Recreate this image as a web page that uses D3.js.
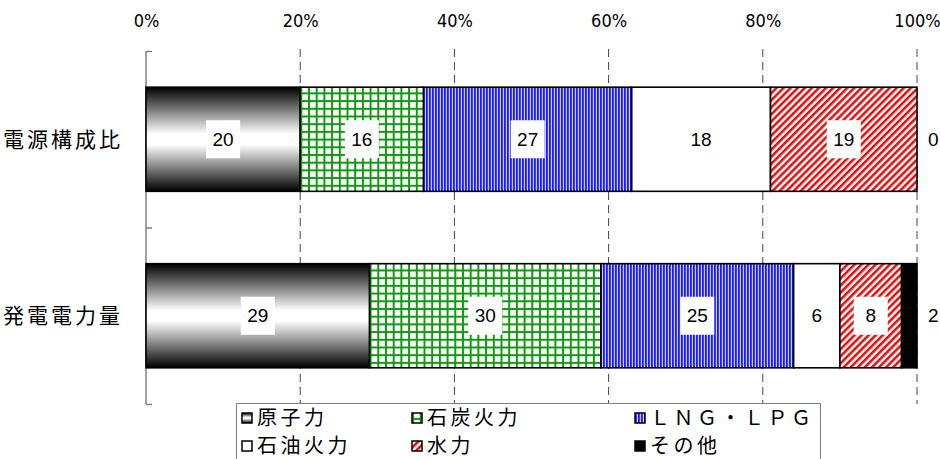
<!DOCTYPE html>
<html>
<head>
<meta charset="utf-8">
<script src="https://cdn.jsdelivr.net/npm/d3@7"></script>
<style>
  body { margin: 0; background: #fff; }
  svg { display: block; }
  .cjk { font-family: "Noto Sans CJK JP", "Noto Sans", sans-serif; }
</style>
</head>
<body>
<div id="chart"></div>
<script>
// chart data
const categories = ["電源構成比", "発電電力量"];
const series = ["原子力", "石炭火力", "ＬＮＧ・ＬＰＧ", "石油火力", "水力", "その他"];
const values = [
    [20, 16, 27, 18, 19, 0],   // 電源構成比
    [29, 30, 25, 6, 8, 2]      // 発電電力量
];
const tickValues = [0, 20, 40, 60, 80, 100];

const width = 940, height = 459;

const svg = d3.select("#chart").append("svg")
    .attr("width", width)
    .attr("height", height);

// fills for each series
const defs = svg.append("defs");

const grad = defs.append("linearGradient")
    .attr("id", "fill0")
    .attr("x1", 0).attr("y1", 0).attr("x2", 0).attr("y2", 1);
grad.append("stop").attr("offset", "0%").attr("stop-color", "#000");
grad.append("stop").attr("offset", "45%").attr("stop-color", "#fff");
grad.append("stop").attr("offset", "55%").attr("stop-color", "#fff");
grad.append("stop").attr("offset", "100%").attr("stop-color", "#000");

// green grid
const pGrid = defs.append("pattern")
    .attr("id", "fill1")
    .attr("patternUnits", "userSpaceOnUse")
    .attr("width", 7.7).attr("height", 7.7);
pGrid.append("rect").attr("width", 7.7).attr("height", 7.7).attr("fill", "#fff");
pGrid.append("rect").attr("width", 2).attr("height", 7.7).attr("fill", "#119911");
pGrid.append("rect").attr("width", 7.7).attr("height", 2).attr("fill", "#119911");

// blue vertical stripes
const pBlue = defs.append("pattern")
    .attr("id", "fill2")
    .attr("patternUnits", "userSpaceOnUse")
    .attr("width", 3).attr("height", 10);
pBlue.append("rect").attr("width", 3).attr("height", 10).attr("fill", "#ccccff");
pBlue.append("rect").attr("width", 1.8).attr("height", 10).attr("fill", "#1a1aff");

// red diagonal stripes
const pRed = defs.append("pattern")
    .attr("id", "fill4")
    .attr("patternUnits", "userSpaceOnUse")
    .attr("width", 5).attr("height", 5)
    .attr("patternTransform", "rotate(45)");
pRed.append("rect").attr("width", 5).attr("height", 5).attr("fill", "#fff");
pRed.append("rect").attr("width", 2.6).attr("height", 5).attr("fill", "#e01010");

const fills = ["url(#fill0)", "url(#fill1)", "url(#fill2)", "#fff", "url(#fill4)", "#000"];
const boxed = [true, true, true, false, true, false];

// scales
const x = d3.scaleLinear().domain([0, 100]).range([146, 917]);
const y = d3.scaleBand().domain(categories).range([51, 404])
    .paddingInner(0.41).paddingOuter(0.205);

// top percentage labels
svg.append("g")
    .attr("transform", "translate(0,30)")
    .call(d3.axisTop(x).tickValues(tickValues).tickSize(0).tickFormat(d => d + "%"))
    .call(g => g.select(".domain").remove())
    .call(g => g.selectAll("text")
        .attr("font-family", "'DejaVu Sans Condensed', 'Liberation Sans Narrow', sans-serif")
        .attr("font-stretch", "condensed")
        .attr("font-size", 18)
        .attr("fill", "#000"));

// dashed grid lines
svg.append("g").selectAll("line")
    .data(tickValues.slice(1))
    .join("line")
    .attr("x1", d => x(d)).attr("x2", d => x(d))
    .attr("y1", 49).attr("y2", 404)
    .attr("stroke", "#444")
    .attr("stroke-width", 1)
    .attr("stroke-dasharray", "8,5");

// left axis with inward ticks at category boundaries
const yEdge = d3.scaleLinear().domain([0, categories.length]).range([51, 404]);
svg.append("g")
    .attr("transform", `translate(${x(0)},0)`)
    .call(d3.axisLeft(yEdge).ticks(categories.length).tickSize(-6).tickFormat(""))
    .call(g => g.select(".domain").attr("stroke", "#808080").attr("stroke-width", 1.5)
        .attr("d", `M0,${yEdge(0)}V${yEdge(categories.length)}`))
    .call(g => g.selectAll(".tick line").attr("stroke", "#808080").attr("stroke-width", 1.5));

// stacked bars
const rows = categories.map((c, i) => {
    const r = { category: c };
    series.forEach((s, j) => r[s] = values[i][j]);
    return r;
});
const stacked = d3.stack().keys(series)(rows);

const layers = svg.append("g").selectAll("g")
    .data(stacked)
    .join("g")
    .attr("fill", (d, i) => fills[i]);

layers.selectAll("rect")
    .data(d => d.filter(p => p[1] - p[0] > 0))
    .join("rect")
    .attr("x", d => x(d[0]))
    .attr("y", d => y(d.data.category))
    .attr("width", d => x(d[1]) - x(d[0]))
    .attr("height", y.bandwidth())
    .attr("stroke", "#000")
    .attr("stroke-width", 1.6);

// value labels
const labelData = [];
stacked.forEach((layer, i) => {
    layer.forEach(p => {
        const v = p[1] - p[0];
        const last = i === series.length - 1;
        labelData.push({
            v: v,
            boxed: boxed[i],
            x: last ? x(100) + 11 : (x(p[0]) + x(p[1])) / 2,
            anchor: last ? "start" : "middle",
            y: y(p.data.category) + y.bandwidth() / 2
        });
    });
});

const labels = svg.append("g").selectAll("g")
    .data(labelData)
    .join("g");

labels.filter(d => d.boxed).append("rect")
    .attr("x", d => d.x - 17)
    .attr("y", d => d.y - 19)
    .attr("width", 34)
    .attr("height", 38)
    .attr("fill", "#fff");

labels.append("text")
    .attr("x", d => d.x)
    .attr("y", d => d.y)
    .attr("dy", "0.35em")
    .attr("text-anchor", d => d.anchor)
    .attr("font-family", "'Liberation Sans', Arial, sans-serif")
    .attr("font-size", 19)
    .attr("fill", "#000")
    .text(d => d.v);

// category labels
svg.append("g").selectAll("text")
    .data(categories)
    .join("text")
    .attr("class", "cjk")
    .attr("x", 3)
    .attr("y", d => y(d) + y.bandwidth() / 2)
    .attr("dy", "0.36em")
    .attr("font-size", 21)
    .attr("letter-spacing", 3)
    .attr("fill", "#000")
    .text(d => d);

// legend
const legend = svg.append("g");
legend.append("rect")
    .attr("x", 236.5).attr("y", 403.5)
    .attr("width", 584).attr("height", 70)
    .attr("fill", "#fff")
    .attr("stroke", "#808080");

const colX = [242, 412, 635];
const rowY = [418, 446];
const items = legend.selectAll("g.item")
    .data(series)
    .join("g")
    .attr("class", "item")
    .attr("transform", (d, i) => `translate(${colX[i % 3]},${rowY[Math.floor(i / 3)]})`);

items.append("rect")
    .attr("x", 0).attr("y", -5)
    .attr("width", 10).attr("height", 10)
    .attr("fill", (d, i) => fills[i])
    .attr("stroke", "#000")
    .attr("stroke-width", 1.5);

items.append("text")
    .attr("class", "cjk")
    .attr("x", 15)
    .attr("dy", "0.36em")
    .attr("font-size", 20)
    .attr("letter-spacing", 3.5)
    .attr("fill", "#000")
    .text(d => d);
</script>
</body>
</html>
